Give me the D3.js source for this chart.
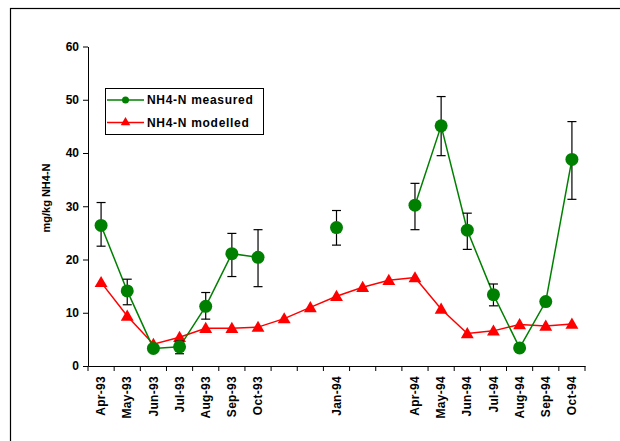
<!DOCTYPE html>
<html lang="en">
<head>
  <meta charset="UTF-8">
  <title>NH4-N measured vs modelled</title>
  <style>
    html, body { margin: 0; padding: 0; background: #fff; }
    svg { display: block; font-family: Arial, 'Liberation Sans', sans-serif; }
  </style>
</head>
<body>
  <div id="chart"></div>

  <script src="https://d3js.org/d3.v7.min.js"></script>

  <script>
    const months = ["Apr-93", "May-93", "Jun-93", "Jul-93", "Aug-93", "Sep-93", "Oct-93", "Nov-93", "Dec-93", "Jan-94",
                    "Feb-94", "Mar-94", "Apr-94", "May-94", "Jun-94", "Jul-94", "Aug-94", "Sep-94", "Oct-94"];
    const tickLabels = ["Apr-93", "May-93", "Jun-93", "Jul-93", "Aug-93", "Sep-93", "Oct-93", "", "", "Jan-94",
                        "", "", "Apr-94", "May-94", "Jun-94", "Jul-94", "Aug-94", "Sep-94", "Oct-94"];
    const measured = [26.4, 14.1, 3.3, 3.6, 11.2, 21.1, 20.4, null, null, 26.0,
                      null, null, 30.2, 45.1, 25.5, 13.4, 3.4, 12.1, 38.8];
    const measuredLow = [22.5, 11.5, 2.7, 2.3, 8.8, 16.8, 14.9, null, null, 22.7,
                         null, null, 25.6, 39.5, 21.9, 11.3, 3.4, 11.6, 31.3];
    const measuredHigh = [30.7, 16.3, 3.9, 4.7, 13.8, 24.9, 25.6, null, null, 29.2,
                          null, null, 34.3, 50.6, 28.7, 15.4, 3.4, 12.6, 45.9];
    const modelled = [15.7, 9.4, 4.1, 5.4, 7.1, 7.1, 7.3, 8.9, 11.0, 13.1,
                      14.8, 16.1, 16.6, 10.7, 6.1, 6.6, 7.8, 7.5, 7.9];
    const yTicks = [0, 10, 20, 30, 40, 50, 60];

    const width = 620, height = 441;
    const plotLeft = 88, plotRight = 585, plotTop = 46.5, plotBottom = 366;

    const svg = d3.select("#chart")
      .append("svg")
      .attr("width", width)
      .attr("height", height);

    // outer chart frame (runs off the right and bottom edge)
    svg.append("rect")
      .attr("x", 10.5).attr("y", 8.5)
      .attr("width", 700).attr("height", 600)
      .attr("fill", "none")
      .attr("stroke", "#000")
      .attr("stroke-width", 1.2);

    const x = d3.scaleBand().domain(months).range([plotLeft, plotRight]).padding(0);
    const y = d3.scaleLinear().domain([0, 60]).range([plotBottom, plotTop]);
    const cx = m => x(m) + x.bandwidth() / 2;

    // y axis
    const yAxis = svg.append("g")
      .attr("transform", `translate(${plotLeft},0)`)
      .call(d3.axisLeft(y).tickValues(yTicks).tickSize(5).tickSizeOuter(0).tickPadding(4));
    yAxis.selectAll("text")
      .style("font-size", "12px")
      .style("font-weight", "bold")
      .attr("fill", "#000");
    yAxis.selectAll("line, path").attr("stroke", "#000");

    // x axis: labels centred in each month, ticks on month boundaries
    const xAxis = svg.append("g")
      .attr("transform", `translate(0,${plotBottom})`)
      .call(d3.axisBottom(x).tickSize(0).tickSizeOuter(0).tickFormat((d, i) => tickLabels[i]));
    xAxis.select(".domain").attr("stroke", "#000");
    xAxis.selectAll("text")
      .attr("transform", "rotate(-90)")
      .attr("x", -10)
      .attr("y", 0)
      .attr("dy", "0.35em")
      .style("text-anchor", "end")
      .style("font-size", "12px")
      .style("font-weight", "bold")
      .style("letter-spacing", "0.3px")
      .attr("fill", "#000");
    const bounds = months.map(m => x(m)).concat([plotRight]);
    xAxis.selectAll("line.bound")
      .data(bounds)
      .join("line")
      .attr("class", "bound")
      .attr("x1", d => d).attr("x2", d => d)
      .attr("y1", 0).attr("y2", 5)
      .attr("stroke", "#000");

    // y title
    svg.append("text")
      .attr("transform", `translate(50,198) rotate(-90)`)
      .style("text-anchor", "middle")
      .style("font-size", "11px")
      .style("font-weight", "bold")
      .text("mg/kg NH4-N");

    // modelled series
    const modelData = months.map((m, i) => ({ m, v: modelled[i] }));
    const line = d3.line()
      .defined(d => d.v != null)
      .x(d => cx(d.m))
      .y(d => y(d.v));

    svg.append("path")
      .datum(modelData)
      .attr("fill", "none")
      .attr("stroke", "#ff0000")
      .attr("stroke-width", 1.5)
      .attr("d", line);

    // measured series
    const measData = months.map((m, i) => ({ m, v: measured[i], lo: measuredLow[i], hi: measuredHigh[i] }));

    svg.append("path")
      .datum(measData)
      .attr("fill", "none")
      .attr("stroke", "#008000")
      .attr("stroke-width", 1.5)
      .attr("d", line);

    const tri = d3.symbol().type(d3.symbolTriangle).size(72);
    svg.selectAll("path.tri")
      .data(modelData)
      .join("path")
      .attr("class", "tri")
      .attr("transform", d => `translate(${cx(d.m)},${y(d.v) + 1})`)
      .attr("fill", "#ff0000")
      .attr("d", tri);

    // error bars
    const errs = measData.filter(d => d.v != null && d.hi > d.lo);
    const eb = svg.selectAll("g.err").data(errs).join("g").attr("class", "err")
      .attr("stroke", "#000").attr("stroke-width", 1.2);
    eb.append("line")
      .attr("x1", d => cx(d.m)).attr("x2", d => cx(d.m))
      .attr("y1", d => y(d.lo)).attr("y2", d => y(d.hi));
    eb.append("line")
      .attr("x1", d => cx(d.m) - 4.5).attr("x2", d => cx(d.m) + 4.5)
      .attr("y1", d => y(d.hi)).attr("y2", d => y(d.hi));
    eb.append("line")
      .attr("x1", d => cx(d.m) - 4.5).attr("x2", d => cx(d.m) + 4.5)
      .attr("y1", d => y(d.lo)).attr("y2", d => y(d.lo));

    svg.selectAll("circle.meas")
      .data(measData.filter(d => d.v != null))
      .join("circle")
      .attr("class", "meas")
      .attr("cx", d => cx(d.m))
      .attr("cy", d => y(d.v))
      .attr("r", 6.5)
      .attr("fill", "#008000");

    // legend
    const lg = svg.append("g");
    lg.append("rect")
      .attr("x", 105.5).attr("y", 88.5)
      .attr("width", 158).attr("height", 46)
      .attr("fill", "#fff").attr("stroke", "#000");
    const items = [
      { label: "NH4-N measured", color: "#008000", sym: "circle", yy: 100 },
      { label: "NH4-N modelled", color: "#ff0000", sym: "tri", yy: 122.5 }
    ];
    const li = lg.selectAll("g.item").data(items).join("g").attr("class", "item");
    li.append("line")
      .attr("x1", 107).attr("x2", 144)
      .attr("y1", d => d.yy).attr("y2", d => d.yy)
      .attr("stroke", d => d.color)
      .attr("stroke-width", 1.5);
    li.filter(d => d.sym === "circle").append("circle")
      .attr("cx", 125.5).attr("cy", d => d.yy).attr("r", 3.5)
      .attr("fill", d => d.color);
    li.filter(d => d.sym === "tri").append("path")
      .attr("transform", d => `translate(125.5,${d.yy})`)
      .attr("d", d3.symbol().type(d3.symbolTriangle).size(40))
      .attr("fill", d => d.color);
    li.append("text")
      .attr("x", 147)
      .attr("y", d => d.yy)
      .attr("dy", "0.36em")
      .style("font-size", "12px")
      .style("font-weight", "bold")
      .style("letter-spacing", "0.7px")
      .text(d => d.label);
  </script>
</body>
</html>
